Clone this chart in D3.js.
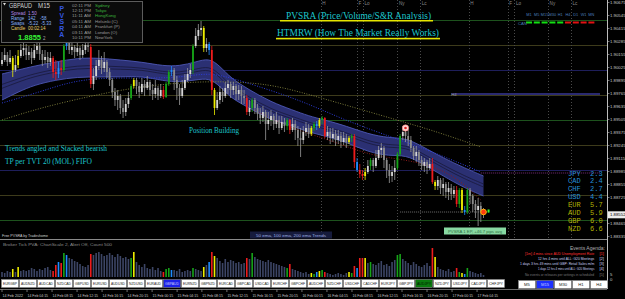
<!DOCTYPE html>
<html><head><meta charset="utf-8">
<script src="https://cdn.jsdelivr.net/npm/d3@7"></script>
<style>html,body{margin:0;padding:0;background:#000;overflow:hidden}svg{display:block}</style>
</head><body><svg id="c" width="625" height="299"></svg>
<script>
// ---------------- DATA ----------------
const openP = [1.9006,1.9010,1.9015,1.9008,1.9012,1.9000,1.9005,1.9014,1.9020,1.9022,
1.9015,1.9018,1.9012,1.9020,1.9024,1.9016,1.9010,1.9013,1.9008,1.9012,
1.8998,1.8996,1.9002,1.9000,1.9024,1.9028,1.9020,1.9023,1.9018,1.9022,
1.9015,1.9020,1.9025,1.9023,1.8986,1.8994,1.9004,1.9010,1.9002,1.9008,
1.8998,1.8990,1.8978,1.8970,1.8974,1.8962,1.8958,1.8966,1.8972,1.8984,
1.8990,1.8984,1.8978,1.8986,1.8982,1.8988,1.8980,1.8976,1.8982,1.8974,
1.8980,1.8973,1.8986,1.8998,1.9000,1.8990,1.8982,1.8974,1.8982,1.8990,
1.8996,1.9000,1.9024,1.9034,1.9040,1.9042,1.9022,1.9026,1.9020,1.8980,
1.8962,1.8970,1.8978,1.8974,1.8982,1.8986,1.8980,1.8984,1.8976,1.8980,
1.8974,1.8972,1.8958,1.8962,1.8970,1.8962,1.8956,1.8952,1.8958,1.8946,
1.8950,1.8954,1.8946,1.8950,1.8942,1.8948,1.8944,1.8950,1.8940,1.8946,
1.8940,1.8932,1.8930,1.8938,1.8942,1.8936,1.8942,1.8946,1.8944,1.8950,
1.8952,1.8934,1.8938,1.8932,1.8936,1.8930,1.8934,1.8928,1.8932,1.8928,
1.8932,1.8934,1.8908,1.8900,1.8896,1.8894,1.8898,1.8904,1.8910,1.8904,
1.8912,1.8920,1.8922,1.8910,1.8900,1.8894,1.8898,1.8902,1.8916,1.8934,
1.8938,1.8934,1.8930,1.8922,1.8914,1.8918,1.8910,1.8904,1.8908,1.8902,
1.8906,1.8888,1.8884,1.8890,1.8882,1.8886,1.8878,1.8882,1.8876,1.8880,
1.8866,1.8880,1.8860,1.8858,1.8880,1.8874,1.8866,1.8860,1.8864,1.8858];
const closeP = [1.9010,1.9015,1.9008,1.9012,1.9000,1.9005,1.9014,1.9020,1.9022,1.9015,
1.9018,1.9012,1.9020,1.9024,1.9016,1.9010,1.9013,1.9008,1.9012,1.8998,
1.8996,1.9002,1.9000,1.9024,1.9028,1.9020,1.9023,1.9018,1.9022,1.9015,
1.9020,1.9025,1.9023,1.8986,1.8994,1.9004,1.9010,1.9002,1.9008,1.8998,
1.8990,1.8978,1.8970,1.8974,1.8962,1.8958,1.8966,1.8972,1.8984,1.8990,
1.8984,1.8978,1.8986,1.8982,1.8988,1.8980,1.8976,1.8982,1.8974,1.8980,
1.8973,1.8986,1.8998,1.9000,1.8990,1.8982,1.8974,1.8982,1.8990,1.8996,
1.9000,1.9024,1.9034,1.9040,1.9042,1.9022,1.9026,1.9020,1.8980,1.8962,
1.8970,1.8978,1.8974,1.8982,1.8986,1.8980,1.8984,1.8976,1.8980,1.8974,
1.8972,1.8958,1.8962,1.8970,1.8962,1.8956,1.8952,1.8958,1.8946,1.8950,
1.8954,1.8946,1.8950,1.8942,1.8948,1.8944,1.8950,1.8940,1.8946,1.8940,
1.8932,1.8930,1.8938,1.8942,1.8936,1.8942,1.8946,1.8944,1.8950,1.8952,
1.8934,1.8938,1.8932,1.8936,1.8930,1.8934,1.8928,1.8932,1.8928,1.8932,
1.8934,1.8908,1.8900,1.8896,1.8894,1.8898,1.8904,1.8910,1.8904,1.8912,
1.8920,1.8922,1.8910,1.8900,1.8894,1.8898,1.8902,1.8916,1.8934,1.8938,
1.8934,1.8930,1.8922,1.8914,1.8918,1.8910,1.8904,1.8908,1.8902,1.8906,
1.8888,1.8884,1.8890,1.8882,1.8886,1.8878,1.8882,1.8876,1.8880,1.8866,
1.8880,1.8860,1.8858,1.8880,1.8874,1.8866,1.8860,1.8864,1.8858,1.8855];
const highP = [1.9018,1.9022,1.9018,1.9020,1.9014,1.9015,1.9020,1.9026,1.9028,1.9026,
1.9024,1.9022,1.9026,1.9030,1.9028,1.9020,1.9020,1.9018,1.9018,1.9014,
1.9010,1.9008,1.9010,1.9026,1.9030,1.9030,1.9028,1.9025,1.9028,1.9024,
1.9026,1.9028,1.9027,1.9026,1.9002,1.9010,1.9020,1.9014,1.9018,1.9010,
1.9002,1.8992,1.8982,1.8980,1.8976,1.8970,1.8972,1.8978,1.8986,1.8992,
1.8992,1.8988,1.8992,1.8990,1.8994,1.8990,1.8986,1.8990,1.8984,1.8986,
1.8984,1.8988,1.9000,1.9004,1.9002,1.8994,1.8986,1.8990,1.8996,1.9002,
1.9006,1.9026,1.9042,1.9046,1.9049,1.9044,1.9032,1.9028,1.9024,1.8982,
1.8978,1.8984,1.8982,1.8988,1.8990,1.8988,1.8988,1.8986,1.8985,1.8984,
1.8980,1.8975,1.8970,1.8972,1.8972,1.8966,1.8962,1.8964,1.8960,1.8958,
1.8960,1.8956,1.8958,1.8954,1.8954,1.8952,1.8952,1.8951,1.8952,1.8950,
1.8944,1.8942,1.8944,1.8948,1.8946,1.8944,1.8948,1.8949,1.8952,1.8954,
1.8953,1.8944,1.8942,1.8942,1.8940,1.8940,1.8938,1.8938,1.8936,1.8934,
1.8936,1.8936,1.8912,1.8906,1.8900,1.8902,1.8910,1.8912,1.8912,1.8920,
1.8924,1.8927,1.8924,1.8912,1.8906,1.8904,1.8910,1.8918,1.8936,1.8944,
1.8942,1.8940,1.8934,1.8924,1.8924,1.8920,1.8914,1.8912,1.8910,1.8912,
1.8912,1.8890,1.8894,1.8892,1.8892,1.8888,1.8888,1.8886,1.8884,1.8884,
1.8882,1.8882,1.8864,1.8882,1.8882,1.8876,1.8870,1.8872,1.8868,1.8862];
const lowP = [1.9004,1.9008,1.9004,1.9006,1.8993,1.8998,1.9002,1.9012,1.9014,1.9010,
1.9010,1.9006,1.9010,1.9016,1.9010,1.9004,1.9006,1.9002,1.9004,1.8992,
1.8990,1.8992,1.8995,1.8998,1.9020,1.9016,1.9015,1.9012,1.9014,1.9010,
1.9012,1.9016,1.9018,1.8982,1.8980,1.8990,1.9000,1.8996,1.8998,1.8992,
1.8984,1.8972,1.8964,1.8960,1.8956,1.8952,1.8954,1.8962,1.8970,1.8982,
1.8976,1.8972,1.8976,1.8974,1.8980,1.8974,1.8970,1.8972,1.8970,1.8972,
1.8971,1.8972,1.8984,1.8994,1.8980,1.8970,1.8965,1.8972,1.8980,1.8988,
1.8992,1.8996,1.9022,1.9030,1.9034,1.9018,1.9018,1.9015,1.8975,1.8955,
1.8960,1.8966,1.8968,1.8972,1.8976,1.8972,1.8975,1.8970,1.8970,1.8966,
1.8966,1.8955,1.8954,1.8958,1.8956,1.8950,1.8946,1.8948,1.8930,1.8940,
1.8944,1.8940,1.8942,1.8936,1.8940,1.8938,1.8940,1.8936,1.8938,1.8930,
1.8924,1.8913,1.8926,1.8934,1.8932,1.8934,1.8939,1.8940,1.8942,1.8946,
1.8932,1.8930,1.8926,1.8928,1.8924,1.8926,1.8922,1.8925,1.8922,1.8926,
1.8928,1.8902,1.8898,1.8892,1.8890,1.8890,1.8896,1.8900,1.8898,1.8902,
1.8910,1.8912,1.8902,1.8892,1.8887,1.8888,1.8890,1.8900,1.8914,1.8930,
1.8928,1.8924,1.8918,1.8910,1.8908,1.8904,1.8900,1.8898,1.8896,1.8900,
1.8886,1.8880,1.8880,1.8876,1.8874,1.8872,1.8870,1.8870,1.8872,1.8863,
1.8862,1.8857,1.8855,1.8856,1.8866,1.8858,1.8852,1.8844,1.8848,1.8852];
const tickVolume = [500,400,600,500,800,500,1000,600,700,600,
700,900,800,600,800,700,900,1000,700,600,
1200,1500,1400,2400,2200,1900,1800,1600,1500,1300,
1100,1000,1200,2300,2200,2400,2500,2300,2100,2200,
2400,2200,2000,2300,2100,1900,2000,1800,1900,2500,
1500,1200,1000,1300,900,800,1000,700,900,600,
500,800,900,700,700,600,800,500,600,700,
600,900,800,700,600,1000,1200,1500,2500,2100,
1900,1600,1400,1800,1500,1700,1600,1400,1500,1300,
1400,1900,1800,2400,2000,1800,1700,1600,1500,1700,
1500,1400,1300,1200,1100,1000,900,1300,800,700,
600,500,400,500,300,400,300,500,600,700,
500,400,300,200,300,400,300,200,400,500,
400,1100,900,1900,1900,1900,1400,1500,1300,1200,
1400,1600,1200,1300,1100,1500,1700,2200,2300,1800,
1600,1400,1200,1500,1300,1100,1000,1200,1400,1100,
2900,2000,1000,800,700,600,800,500,600,900,
500,400,300,900,600,500,400,300,400,200];
// PVSRA coloured (climax / above-average volume) candles
const climaxIdx = [4,6,19,20,21,22,23,24,33,48,49,60,61,62,63,71,75,77,78,79,91,93,106,107,115,116,117,118,119,120,129,130,131,132,133,134,135,137,147,148,160,161,169,170,171,172,173];
const climaxCol = ["y","y","r","r","b","r","g","b","r","g","y","r","g","g","b","g","y","b","r","y","r","g","g","r","y","g","b","y","g","r","y","g","r","b","r","r","y","g","g","g","r","y","r","g","y","b","g"];
// EMA ribbon (50 ema) and slower EMAs
const bandIdx = [0,6,12,20,28,36,44,52,60,66,72,77,81,85,92,100,108,114,120,128,136,144,150,156,164,172,179];
const bandHi = [1.8996,1.9000,1.9004,1.9008,1.9012,1.9012,1.9010,1.9008,1.9004,1.9004,1.9008,1.9012,1.9004,1.8992,1.8980,1.8968,1.8960,1.8954,1.8950,1.8944,1.8936,1.8932,1.8932,1.8924,1.8912,1.8902,1.8894];
const bandLo = [1.8970,1.8978,1.8985,1.8990,1.8993,1.8993,1.8993,1.8994,1.8989,1.8988,1.8990,1.8992,1.8984,1.8972,1.8962,1.8950,1.8944,1.8938,1.8934,1.8928,1.8918,1.8914,1.8915,1.8907,1.8894,1.8882,1.8874];
const ema100Idx = [0,14,25,36,51,66,77,88,111,127,148,163,178];
const ema100 = [1.8967,1.8978,1.8988,1.8992,1.8992,1.8992,1.8998,1.8990,1.8970,1.8950,1.8930,1.8915,1.8898];
const ema200Idx = [0,14,33,48,70,96,111,129,152,163,178];
const ema200 = [1.8950,1.8962,1.8974,1.8982,1.8989,1.8988,1.8978,1.8964,1.8946,1.8937,1.8923];
const fastIdx = [94,107,122,137,152,167,178];
const fastEma = [1.8960,1.8942,1.8930,1.8914,1.8910,1.8898,1.8870];
// S&R quarter levels
const srLevels = [1.9050,1.9025,1.9000,1.8975,1.8950,1.8925,1.8900,1.8875,1.8850];
const srKind = ["g","o","n","o","g","o","n","o","g"];
// axis
const priceTicks = [1.90675,1.90545,1.90415,1.90285,1.90155,1.90025,1.89895,1.89765,1.89635,1.89505,1.89375,1.89245,1.89115,1.88985,1.88855,1.88725,1.88465,1.88335];
const currentPrice = 1.88552;
const dateLabels = ["14 Feb 2022","14 Feb 04:15","14 Feb 08:15","14 Feb 12:15","14 Feb 16:15","14 Feb 20:15","15 Feb 00:15","15 Feb 04:15","15 Feb 08:15","15 Feb 12:15","15 Feb 16:15","15 Feb 20:15","16 Feb 00:15","16 Feb 04:15","16 Feb 08:15","16 Feb 12:15","16 Feb 16:15","16 Feb 20:15","17 Feb 00:15","17 Feb 04:15"];
const dateIdx = [0,9.3,18.6,27.9,37.2,46.5,55.8,65.1,74.3,83.6,92.9,102.2,111.5,120.8,130.1,139.4,148.7,158,167.3,176.6];
const sessionIdx = [118.5,132,134.2,147,155.5,173.5,188,190.5,203,211.5];
const sessionLbl = ["H","F","Lo","Ny","Lc","H","F","Lo","Ny","Lc"];
// currency strength
const currencies = ["JPY","CAD","CHF","USD","EUR","AUD","GBP","NZD"];
const strength = [2.3,2.4,2.7,4.4,5.7,5.9,6.0,6.6];
// multi-timeframe trend
const tfNames = ["M1","M5","M15","M30","H1","H4","D1","W1","MN"];
const tfTrend = ["up","up","up","up","up","dn","dn","dn","dn"];
// symbols
const symbols = ["EURGBP","AUDNZD","AUDCAD","NZDCAD","GBPUSD","EURUSD","AUDUSD","NZDUSD","EURAUD","GBPAUD","EURNZD","GBPNZD","EURCAD","GBPCAD","USDCAD","EURCHF","GBPCHF","AUDCHF","NZDCHF","USDCHF","CADCHF","EURJPY","GBPJPY","AUDJPY","NZDJPY","USDJPY","CADJPY","CHFJPY"];
const tfButtons = ["M5","M15","M30","H1","H4"];
const sessionTimes = ["02:11 PM","12:11 PM","11:11 AM","05:11 AM","04:11 AM","03:11 AM","10:11 PM"];
const sessionNames = ["Sydney","Tokyo","HongKong","Helsinki (C)","Frankfurt (P)","London (O)","NewYork"];
const sessionOpen = [true,true,true,false,false,false,false];
const events = ["[1m] 4 mins since AUD Unemployment Rate","12 hrs 4 mins until ALL: G20 Meetings","1 days 3 hrs 49 mins until GBP: Retail Sales m/m","1 days 12 hrs 4 mins until ALL: G20 Meetings","No events or releases per settings in scheduled"];
const markers = [{i:150,p:1.8942,k:"hi"},{i:179,p:1.8858,k:"cur"}];

// ---------------- DRAW ----------------
const svg = d3.select("#c");
const W = 625, H = 299;
const x = d3.scaleLinear().domain([0,225]).range([2,607.25]);
const y = d3.scaleLinear().domain([1.9070,1.8832]).range([0,238]);
const yv = d3.scaleLinear().domain([0,3000]).range([277,247]);
const SANS = "'Liberation Sans', Arial, sans-serif";
const SERIF = "'Liberation Serif', 'Times New Roman', serif";
const MONO = "'Liberation Mono', 'Courier New', monospace";
const colMap = {r:"#ee1c1c", g:"#16a418", b:"#1e8cff", y:"#eeee00"};

svg.append("rect").attr("width",W).attr("height",H).attr("fill","#000");

const main = svg.append("g");
main.append("clipPath").attr("id","clipMain").append("rect").attr("x",0).attr("y",0).attr("width",607).attr("height",239);
const plot = main.append("g").attr("clip-path","url(#clipMain)");

// S&R lines
const srCol = {g:"#1d521d", o:"#3d3b1b", n:"#1e1e5a"};
plot.selectAll(".sr").data(srLevels).join("line")
  .attr("x1",0).attr("x2",607).attr("y1",d=>y(d)+0.5).attr("y2",d=>y(d)+0.5)
  .attr("stroke",(d,i)=>srCol[srKind[i]]).attr("stroke-width",1);

// session lines
plot.selectAll(".ses").data(sessionIdx).join("line")
  .attr("x1",d=>Math.round(x(d))+0.5).attr("x2",d=>Math.round(x(d))+0.5)
  .attr("y1",0).attr("y2",239).attr("stroke","#4a4a4a").attr("stroke-dasharray","1,2");
svg.selectAll(".sesl").data(sessionIdx).join("text")
  .attr("x",d=>x(d)+1.5).attr("y",5).text((d,i)=>sessionLbl[i])
  .attr("font-family",SANS).attr("font-size",4.6).attr("fill","#8a8a8a");

// H4 level
plot.append("line").attr("x1",x(167)).attr("x2",600).attr("y1",y(1.8976)).attr("y2",y(1.8976))
  .attr("stroke","#2a2a70").attr("stroke-width",2);
svg.append("text").attr("x",x(167)).attr("y",y(1.8976)+1.5).text("H4")
  .attr("font-family",SANS).attr("font-size",4.2).attr("fill","#9a9a9a");
// JPY level dotted
plot.append("line").attr("x1",x(178)).attr("x2",600).attr("y1",y(1.8897)).attr("y2",y(1.8897))
  .attr("stroke","#7a2a7a").attr("stroke-dasharray","1,1");
// bid line
plot.append("line").attr("x1",x(148)).attr("x2",x(181)).attr("y1",y(1.8858)).attr("y2",y(1.8858))
  .attr("stroke","#8a8a8a").attr("stroke-dasharray","1,1").attr("stroke-width",0.8);

// EMA ribbon
const bandPts = bandIdx.map((d,i)=>({i:d,hi:bandHi[i],lo:bandLo[i]}));
const area = d3.area().x(d=>x(d.i)).y0(d=>y(d.lo)).y1(d=>y(d.hi)).curve(d3.curveBasis);
plot.append("path").datum(bandPts).attr("d",area).attr("fill","#2b3073");
const edge = k => d3.line().x(d=>x(d.i)).y(d=>y(d[k])).curve(d3.curveBasis);
plot.append("path").datum(bandPts).attr("d",edge("hi")).attr("fill","none").attr("stroke","#4d57b4").attr("stroke-width",0.9);
plot.append("path").datum(bandPts).attr("d",edge("lo")).attr("fill","none").attr("stroke","#4d57b4").attr("stroke-width",0.9);
[0.4,0.55].forEach(f=>{
  plot.append("path").datum(bandPts)
    .attr("d",d3.line().x(d=>x(d.i)).y(d=>y(d.hi)+(y(d.lo)-y(d.hi))*f).curve(d3.curveBasis))
    .attr("fill","none").attr("stroke","#161630").attr("stroke-width",0.7);
});

// slower EMAs
const dotted = (idx, vals, col) => plot.append("path")
  .datum(idx.map((d,i)=>[x(d),y(vals[i])]))
  .attr("d",d3.line().curve(d3.curveBasis)).attr("fill","none")
  .attr("stroke",col).attr("stroke-width",1).attr("stroke-dasharray","1,1.5");
dotted(ema200Idx, ema200, "#7a7a3a");
dotted(ema100Idx, ema100, "#2c3cd8");
dotted(fastIdx, fastEma, "#8a1a1a");

// candles
const cmap = {};
climaxIdx.forEach((d,i)=>cmap[d]=climaxCol[i]);
const candles = openP.map((o,i)=>({i,o,h:highP[i],l:lowP[i],c:closeP[i],v:tickVolume[i],k:cmap[i]}));
const ccol = d => d.k ? colMap[d.k] : (d.c>=d.o ? "#d6d6d6" : "#8c8c8c");
const cg = plot.append("g");
cg.selectAll("line").data(candles).join("line")
  .attr("x1",d=>x(d.i)).attr("x2",d=>x(d.i)).attr("y1",d=>y(d.h)).attr("y2",d=>y(d.l))
  .attr("stroke",d=>d.k?colMap[d.k]:"#9a9a9a").attr("stroke-width",0.8);
cg.selectAll("rect").data(candles).join("rect")
  .attr("x",d=>x(d.i)-0.9).attr("width",1.8)
  .attr("y",d=>Math.min(y(d.o),y(d.c))).attr("height",d=>Math.max(0.8,Math.abs(y(d.o)-y(d.c))))
  .attr("fill",ccol);

// markers
markers.forEach(m=>{
  if(m.k==="hi"){
    plot.append("circle").attr("cx",x(m.i)).attr("cy",y(m.p)).attr("r",3.2).attr("fill","#ffd6d6").attr("stroke","#ff7070").attr("stroke-width",0.6);
    plot.append("circle").attr("cx",x(m.i)).attr("cy",y(m.p)).attr("r",1.3).attr("fill","#e02020");
  } else {
    plot.append("circle").attr("cx",x(m.i)).attr("cy",y(m.p)).attr("r",2.8).attr("fill","#ff3a10").attr("stroke","#ffb000").attr("stroke-width",1);
    plot.append("rect").attr("x",x(m.i+1.5)).attr("y",y(m.p)-2.5).attr("width",2).attr("height",3).attr("fill","#30ff30");
  }
});

// text helpers
const txt = (g,s,xx,yy,o) => {
  const t = g.append("text").attr("x",xx).attr("y",yy).text(s)
    .attr("font-family",o.f||SANS).attr("font-size",o.s||4.5).attr("fill",o.c||"#ccc");
  if(o.len) t.attr("textLength",o.len).attr("lengthAdjust","spacingAndGlyphs");
  if(o.a) t.attr("text-anchor",o.a);
  if(o.w) t.attr("font-weight",o.w);
  return t;
};
// scale the font so the natural text width equals the wanted width
const fitTxt = (g,s,xx,yy,width,o) => {
  const t = txt(g,s,xx,yy,Object.assign({},o,{len:null}));
  const w = t.node().getComputedTextLength();
  if (w > 0) t.attr("font-size", (o.s||4.5) * width / w);
  return t;
};
const CY = "#1cc6cc";
txt(svg,"PVSRA (Price/Volume/S&R Analysis)",286,19,{f:SERIF,s:10.5,c:CY,len:145});
svg.append("rect").attr("x",280).attr("y",20).attr("width",153).attr("height",1.5).attr("fill","#e6e600");
txt(svg,"HTMRW (How The Market Really Works)",277,36,{f:SERIF,s:10.5,c:CY,len:162});
svg.append("rect").attr("x",276).attr("y",37.8).attr("width",164).attr("height",1.6).attr("fill","#e6e600");
txt(svg,"Position Building",189,133,{f:SERIF,s:8,c:CY,len:50});
txt(svg,"Trends angled and Stacked bearish",5,151,{f:SERIF,s:8,c:CY,len:102});
txt(svg,"TP per TVT 20 (MOL) FIFO",5,163.5,{f:SERIF,s:8,c:CY,len:87});
txt(svg,"Free PVSRA by Tradeshome",2,237,{s:4.4,c:"#d0d0d0",len:46});

// info panel
const ip = svg.append("g");
ip.append("rect").attr("x",1.5).attr("y",1.5).attr("width",141).attr("height",41).attr("fill","#0b0b0b").attr("stroke","#5c5c5c");
ip.append("path").attr("d","M3,3 L6,3 L4.5,5.5 Z").attr("fill","#ddd");
txt(ip,"GBPAUD",9,8,{s:6.3,c:"#d0d0d0",len:23});
txt(ip,"M15",38,8,{s:6.3,c:"#d0d0d0",len:12});
txt(ip,"Spread",11,14.5,{s:4.5,c:"#b58ae6"}); txt(ip,"1.50",28,14.5,{s:4.5,c:"#b58ae6"});
txt(ip,"Range",11,19.5,{s:4.5,c:"#8ab4f8"}); txt(ip,"142",28,19.5,{s:4.5,c:"#8ab4f8"}); txt(ip,"-58",40,19.5,{s:4.5,c:"#8ab4f8"});
txt(ip,"Swaps",11,24.5,{s:4.5,c:"#8ab4f8"}); txt(ip,"-5.22",28,24.5,{s:4.5,c:"#8ab4f8"}); txt(ip,"-5.33",41,24.5,{s:4.5,c:"#8ab4f8"});
txt(ip,"Candle",11,30,{s:4.5,c:"#e6cf6a"}); txt(ip,"00:02:14",28,30,{s:4.5,c:"#e6cf6a"});
txt(ip,"1.8855",18,40,{s:8,c:"#36ee36",w:"bold",len:23});
txt(ip,"2",43,40,{s:4.5,c:"#aaa"});
["P","V","S","R","A"].forEach((ch,i)=>txt(ip,ch,61.7,[11,17.5,24,30.5,37][i],{s:6.8,c:"#3557e0",w:"bold",a:"middle"}));
sessionTimes.forEach((t,i)=>txt(ip,t,72,[6.5,12,17,22.5,28,33.5,39][i],{s:4.4,c:"#9a9a9a",len:19}));
sessionNames.forEach((t,i)=>txt(ip,t,95,[6.5,12,17,22.5,28,33.5,39][i],{s:4.4,c:sessionOpen[i]?"#3cb43c":"#9a9a9a"}));

// MTF trend indicator
tfNames.forEach((t,i)=>{
  const cx = 529 + 7.8*i;
  txt(svg,t,cx,15.5,{s:3.9,c:"#4a7fb8",a:"middle"});
  svg.append("rect").attr("x",cx-3).attr("y",21.5).attr("width",6).attr("height",2)
    .attr("fill",tfTrend[i]==="up"?"#12e012":"#e21212");
});
txt(svg,"CAN",518,24.5,{s:4.2,c:"#4a7fb8"});

// currency strength
currencies.forEach((c,i)=>{
  const yy = 175.5 + 7.9*i;
  const col = strength[i] < 5 ? "#2591dc" : "#b2b200";
  txt(svg,c,568,yy,{f:MONO,s:7,c:col});
  txt(svg,strength[i].toFixed(1),590,yy,{f:MONO,s:7,c:col});
});

// info boxes
svg.append("rect").attr("x",250).attr("y",231.5).attr("width",82).attr("height",7).attr("fill","#161b3c");
txt(svg,"50 ema, 100 ema, 200 ema Trends",291,237,{s:4.3,c:"#9fb0e0",a:"middle",len:70});
svg.append("rect").attr("x",444).attr("y",227.5).attr("width",62).attr("height",7).attr("fill","#88d9a2");
txt(svg,"PVSRA 1 EP, +46.7 pips avg",475,233,{s:4.3,c:"#2f6e40",a:"middle",len:54});

// price axis
svg.append("line").attr("x1",607.5).attr("x2",607.5).attr("y1",0).attr("y2",289).attr("stroke","#bdbdbd");
svg.selectAll(".pt").data(priceTicks).join("text")
  .attr("x",610).attr("y",d=>y(d)+1.6).text(d=>d.toFixed(5))
  .attr("font-family",SANS).attr("font-size",4.3).attr("fill","#c8c8c8");
svg.selectAll(".ptk").data(priceTicks).join("line")
  .attr("x1",607).attr("x2",609.5).attr("y1",d=>y(d)).attr("y2",d=>y(d)).attr("stroke","#bdbdbd").attr("stroke-width",0.6);
svg.append("rect").attr("x",608).attr("y",y(currentPrice)-3.5).attr("width",17).attr("height",7).attr("fill","#ececec");
txt(svg,currentPrice.toFixed(5),610,y(currentPrice)+1.6,{s:4.3,c:"#000"});

// ---- lower panel ----
svg.append("line").attr("x1",0).attr("x2",607).attr("y1",239.5).attr("y2",239.5).attr("stroke","#8a8a8a");
txt(svg,"Broker Tick PVA:  ChartScale 2,  Alert Off,  Count  500",3,246,{s:4.2,c:"#8a8a8a",len:109});
svg.append("g").selectAll("rect").data(candles).join("rect")
  .attr("x",d=>x(d.i)-0.8).attr("width",1.6)
  .attr("y",d=>yv(d.v)).attr("height",d=>yv(0)-yv(d.v))
  .attr("fill",d=>d.k?colMap[d.k]:"#3c4565");
txt(svg,"5",610,276,{s:4.2,c:"#c8c8c8"});
txt(svg,"0",610,281,{s:4.2,c:"#c8c8c8"});

// events agenda
txt(svg,"Events Agenda:",605,249.5,{s:5,c:"#b0b0b0",a:"end"});
const evY = [254.5,259.5,265,270,275.5];
const evStart = [525,538,520,538,525];
events.forEach((e,i)=>{
  const col = i===0?"#ff3030":(i===4?"#7a7a7a":"#c8d0f0");
  fitTxt(svg,e,evStart[i],evY[i],594.5-evStart[i],{s:4,c:col});
  fitTxt(svg,"["+(i+1)+"]",599.5,evY[i],4.5,{s:4,c:col});
});

// symbol buttons
const bg = svg.append("g");
symbols.forEach((s,i)=>{
  const bx = 1 + 18*i;
  const sel = s==="GBPAUD", grn = s==="AUDJPY";
  bg.append("rect").attr("x",bx+0.5).attr("y",279.5).attr("width",17).attr("height",8)
    .attr("fill",sel?"#1d22e8":(grn?"#0b7a0e":"#ffffff")).attr("stroke","#8a8a8a").attr("stroke-width",0.6);
  txt(bg,s,bx+9,285,{s:3.9,c:sel?"#c8c8ff":(grn?"#001800":"#222"),a:"middle",len:14});
});
tfButtons.forEach((s,i)=>{
  const bx = 518 + 18*i;
  const sel = s==="M15";
  bg.append("rect").attr("x",bx+0.5).attr("y",280.5).attr("width",17).attr("height",8)
    .attr("fill",sel?"#1d30ff":"#ffffff").attr("stroke","#8a8a8a").attr("stroke-width",0.6);
  txt(bg,s,bx+9,286,{s:4.2,c:sel?"#c8c8ff":"#222",a:"middle"});
});

// date axis
svg.append("line").attr("x1",0).attr("x2",607).attr("y1",289.5).attr("y2",289.5).attr("stroke","#6a6a6a");
svg.selectAll(".dtk").data(dateIdx).join("line")
  .attr("x1",d=>x(d)).attr("x2",d=>x(d)).attr("y1",289.5).attr("y2",292).attr("stroke","#bdbdbd").attr("stroke-width",0.6);
svg.selectAll(".dl").data(dateIdx).join("text")
  .attr("x",d=>x(d)+0.5).attr("y",297).text((d,i)=>dateLabels[i])
  .attr("font-family",SANS).attr("font-size",4).attr("fill","#c8c8c8")
  .attr("textLength",20.5).attr("lengthAdjust","spacingAndGlyphs");
</script>
</body></html>
